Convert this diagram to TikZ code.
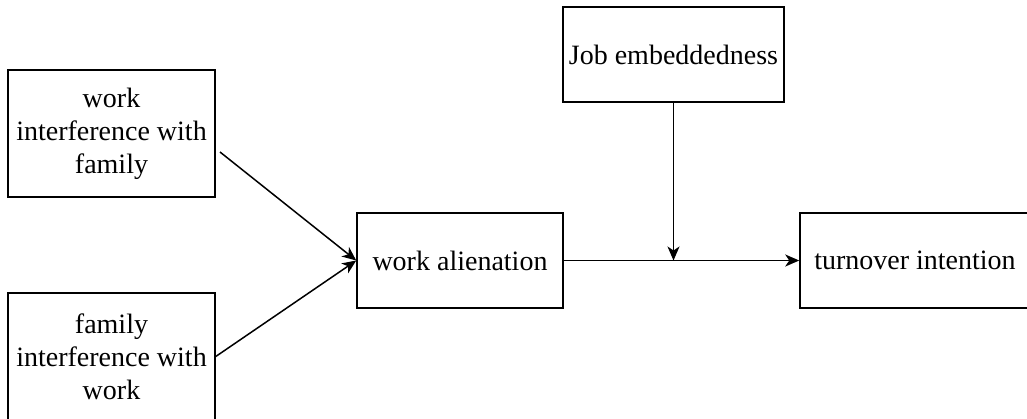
\documentclass[tikz,border=0pt]{standalone}
\usepackage{fontspec}
\setmainfont{Liberation Serif}
\usetikzlibrary{arrows.meta}

\tikzset{
  varbox/.style={draw, line width=1.5pt, align=center, inner sep=0pt,
    font=\fontsize{28}{33}\selectfont},
  arr/.style={line width=1.5pt, -{Stealth[length=14pt,width=12pt,inset=4pt]}}
}

\begin{document}
\begin{tikzpicture}[x=1pt,y=-1pt]%[y=1px,x=1px]
            \useasboundingbox (0,0) rectangle (1027,418);
            % variables
            \node[varbox, minimum width=207pt, minimum height=127pt] (wif) at (111.5,133.5) {work\\interference with\\family};
            \node[varbox, minimum width=207pt, minimum height=127pt] (fiw) at (111.5,356.5) {family\\interference with\\work};
            \node[varbox, minimum width=206pt, minimum height=95pt] (alien) at (460,260.5) {work alienation};
            \node[varbox, minimum width=221pt, minimum height=95pt] (job) at (673.5,54.5) {Job embeddedness};
            \node[varbox, minimum width=230pt, minimum height=95pt] (turn) at (915,260.5) {turnover intention};
            % paths
            \coordinate (wifout) at (220,152);
            \coordinate (mod) at (job.south |- alien.east);
            \draw[arr] (wifout) -- (alien.west);
            \draw[arr] (fiw.east) -- (alien.west);
            \draw[arr] (alien.east) -- (turn.west);
            \draw[arr] (job.south) -- (mod);
        \end{tikzpicture}
\end{document}
